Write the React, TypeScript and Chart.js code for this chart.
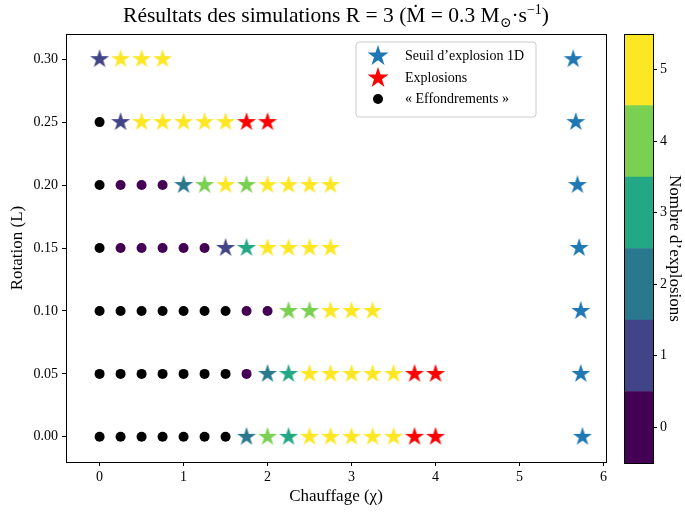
import React, { useEffect, useRef } from "react";
import { Chart, registerables } from "chart.js";
Chart.register(...registerables);

const FONT = "'Liberation Serif', 'DejaVu Serif', serif";

// ---- data ----
const rotations = [0.0, 0.05, 0.1, 0.15, 0.2, 0.25, 0.3];
const heating = [0, 0.25, 0.5, 0.75, 1.0, 1.25, 1.5, 1.75, 2.0, 2.25, 2.5, 2.75, 3.0, 3.25, 3.5, 3.75, 4.0];
// codes: -1 = collapse, 0..5 = number of explosions, 9 = explosion (red)
const C = -1;
const E = 9;
const runs000 = [C, C, C, C, C, C, C, 2, 4, 3, 5, 5, 5, 5, 5, E, E];
const runs005 = [C, C, C, C, C, C, C, 0, 2, 3, 5, 5, 5, 5, 5, E, E];
const runs010 = [C, C, C, C, C, C, C, 0, 0, 4, 4, 5, 5, 5];
const runs015 = [C, 0, 0, 0, 0, 0, 1, 3, 5, 5, 5, 5];
const runs020 = [C, 0, 0, 0, 2, 4, 5, 4, 5, 5, 5, 5];
const runs025 = [C, 1, 5, 5, 5, 5, 5, E, E];
const runs030 = [1, 5, 5, 5];
const runsByRotation = [runs000, runs005, runs010, runs015, runs020, runs025, runs030];
const thresholdHeating = [5.75, 5.73, 5.73, 5.71, 5.69, 5.67, 5.64];

const xTicks = [0, 1, 2, 3, 4, 5, 6];
const yTicks = [0, 0.05, 0.1, 0.15, 0.2, 0.25, 0.3];
const cbarTicks = [0, 1, 2, 3, 4, 5];
const viridis6 = ["#440154", "#414487", "#2a788e", "#22a884", "#7ad151", "#fde725"];
const legendLabels = ["Seuil d\u2019explosion 1D", "Explosions", "\u00ab Effondrements \u00bb"];

const BLUE = "#1f77b4";
const RED = "#ff0000";

function drawStarPath(ctx: CanvasRenderingContext2D, cx: number, cy: number, R: number) {
  const r = R * 0.381966;
  ctx.beginPath();
  for (let i = 0; i < 10; i++) {
    const rad = i % 2 === 0 ? R : r;
    const a = -Math.PI / 2 + (i * Math.PI) / 5;
    const px = cx + rad * Math.cos(a);
    const py = cy + rad * Math.sin(a);
    if (i === 0) ctx.moveTo(px, py);
    else ctx.lineTo(px, py);
  }
  ctx.closePath();
}

function makeStar(color: string, R: number): HTMLCanvasElement {
  const size = Math.ceil(R * 2 + 2);
  const c = document.createElement("canvas");
  c.width = size;
  c.height = size;
  const ctx = c.getContext("2d")!;
  ctx.fillStyle = color;
  drawStarPath(ctx, size / 2, size / 2, R);
  ctx.fill();
  return c;
}

export default function App() {
  const mainRef = useRef<HTMLCanvasElement>(null);
  const cbarRef = useRef<HTMLCanvasElement>(null);

  useEffect(() => {
    Chart.defaults.font.family = FONT;
    Chart.defaults.color = "#000";
    const STAR_R = 10;
    const cmapStars = viridis6.map((c) => makeStar(c, STAR_R));
    const redStar = makeStar(RED, STAR_R);
    const blueStar = makeStar(BLUE, STAR_R);

    const cmapPts: any[] = [];
    const cmapStyles: any[] = [];
    const cmapColors: string[] = [];
    const redPts: any[] = [];
    const collapsePts: any[] = [];
    runsByRotation.forEach((row, ri) => {
      row.forEach((code, i) => {
        const p = { x: heating[i], y: rotations[ri] };
        if (code === C) collapsePts.push(p);
        else if (code === E) redPts.push(p);
        else {
          cmapPts.push(p);
          cmapStyles.push(code === 0 ? "circle" : cmapStars[code]);
          cmapColors.push(viridis6[code]);
        }
      });
    });
    const thresholdPts = rotations.map((r, i) => ({ x: thresholdHeating[i], y: r }));

    const framePlugin = {
      id: "frame",
      afterDraw(chart: any) {
        const { ctx, chartArea: a } = chart;
        ctx.save();
        ctx.strokeStyle = "#000";
        ctx.lineWidth = 1;
        ctx.strokeRect(Math.round(a.left) + 0.5, Math.round(a.top) + 0.5, Math.round(a.right - a.left), Math.round(a.bottom - a.top));
        ctx.restore();
      },
    };

    const titleLegendPlugin = {
      id: "titleLegend",
      afterDraw(chart: any) {
        const { ctx, chartArea: a } = chart;
        ctx.save();
        // title
        const big = `21.5px ${FONT}`;
        const small = `14px ${FONT}`;
        const parts = [
          { t: "R\u00e9sultats des simulations R = 3 (M\u0307 = 0.3 M", f: big, dy: 0 },
          { t: "\u2299", f: small, dy: 5 },
          { t: "\u00b7s", f: big, dy: 0 },
          { t: "\u22121", f: small, dy: -8 },
          { t: ")", f: big, dy: 0 },
        ];
        let total = 0;
        const widths = parts.map((p) => {
          ctx.font = p.f;
          const w = ctx.measureText(p.t).width;
          total += w;
          return w;
        });
        let x = (a.left + a.right) / 2 - total / 2;
        const base = 22;
        ctx.fillStyle = "#000";
        ctx.textBaseline = "alphabetic";
        ctx.textAlign = "left";
        parts.forEach((p, i) => {
          ctx.font = p.f;
          ctx.fillText(p.t, x, base + p.dy);
          x += widths[i];
        });

        // legend
        const bx = 356, by = 42, bw = 180, bh = 75, rr = 3;
        ctx.beginPath();
        ctx.moveTo(bx + rr, by);
        ctx.arcTo(bx + bw, by, bx + bw, by + bh, rr);
        ctx.arcTo(bx + bw, by + bh, bx, by + bh, rr);
        ctx.arcTo(bx, by + bh, bx, by, rr);
        ctx.arcTo(bx, by, bx + bw, by, rr);
        ctx.closePath();
        ctx.fillStyle = "rgba(255,255,255,0.8)";
        ctx.fill();
        ctx.strokeStyle = "#cccccc";
        ctx.lineWidth = 1;
        ctx.stroke();
        const rowsY = [56, 78, 99];
        const mx = 378;
        ctx.fillStyle = BLUE;
        drawStarPath(ctx, mx, rowsY[0], 11);
        ctx.fill();
        ctx.fillStyle = RED;
        drawStarPath(ctx, mx, rowsY[1], 11);
        ctx.fill();
        ctx.fillStyle = "#000";
        ctx.beginPath();
        ctx.arc(mx, rowsY[2], 5, 0, Math.PI * 2);
        ctx.fill();
        ctx.font = `14px ${FONT}`;
        ctx.textBaseline = "middle";
        legendLabels.forEach((l, i) => ctx.fillText(l, 405, rowsY[i]));
        ctx.restore();
      },
    };

    const main = new Chart(mainRef.current!, {
      type: "scatter",
      data: {
        datasets: [
          {
            label: "cmap",
            data: cmapPts,
            pointStyle: cmapStyles,
            pointRadius: 5,
            backgroundColor: cmapColors,
            borderWidth: 0,
          },
          {
            label: legendLabels[1],
            data: redPts,
            pointStyle: redStar,
            backgroundColor: RED,
            borderWidth: 0,
          },
          {
            label: legendLabels[2],
            data: collapsePts,
            pointStyle: "circle",
            pointRadius: 5,
            backgroundColor: "#000",
            borderWidth: 0,
          },
          {
            label: legendLabels[0],
            data: thresholdPts,
            pointStyle: blueStar,
            backgroundColor: BLUE,
            borderWidth: 0,
          },
        ] as any,
      },
      options: {
        animation: false,
        responsive: false,
        devicePixelRatio: 1,
        events: [],
        layout: { padding: { top: 34, right: 79, left: 0, bottom: 0 } },
        plugins: { legend: { display: false }, tooltip: { enabled: false }, title: { display: false } },
        scales: {
          x: {
            type: "linear",
            min: -0.4,
            max: 6.03,
            afterFit: (s: any) => {
              s.height = 52;
            },
            afterBuildTicks: (s: any) => {
              s.ticks = xTicks.map((v) => ({ value: v }));
            },
            ticks: { font: { size: 14 }, padding: 3, callback: (v: any) => String(v), maxRotation: 0 },
            grid: { drawOnChartArea: false, tickLength: 4, color: "#000", tickWidth: 1 },
            border: { display: true, color: "#000" },
            title: { display: true, text: "Chauffage (\u03c7)", font: { size: 17 }, padding: { top: 0, bottom: 7 } },
          },
          y: {
            type: "linear",
            min: -0.02,
            max: 0.32,
            afterFit: (s: any) => {
              s.width = 66;
            },
            afterBuildTicks: (s: any) => {
              s.ticks = yTicks.map((v) => ({ value: v }));
            },
            ticks: { font: { size: 14 }, padding: 4, callback: (v: any) => Number(v).toFixed(2) },
            grid: { drawOnChartArea: false, tickLength: 4, color: "#000", tickWidth: 1 },
            border: { display: true, color: "#000" },
            title: { display: true, text: "Rotation (L)", font: { size: 17 }, padding: { top: 7, bottom: 0 } },
          },
        },
      } as any,
      plugins: [framePlugin, titleLegendPlugin],
    });

    const cbar = new Chart(cbarRef.current!, {
      type: "bar",
      data: {
        labels: ["n"],
        datasets: viridis6.map((c, k) => ({
          label: String(cbarTicks[k]),
          data: [[cbarTicks[k] - 0.5, cbarTicks[k] + 0.5]],
          backgroundColor: c,
          borderWidth: 0,
          barPercentage: 1,
          categoryPercentage: 1,
        })) as any,
      },
      options: {
        animation: false,
        responsive: false,
        devicePixelRatio: 1,
        events: [],
        layout: { padding: { top: 34, left: 24, bottom: 51, right: 0 } },
        plugins: { legend: { display: false }, tooltip: { enabled: false } },
        scales: {
          x: { display: false, stacked: true },
          y: {
            position: "right",
            stacked: false,
            min: -0.5,
            max: 5.5,
            afterFit: (s: any) => {
              s.width = 32;
            },
            afterBuildTicks: (s: any) => {
              s.ticks = cbarTicks.map((v) => ({ value: v }));
            },
            ticks: { font: { size: 14 }, padding: 3 },
            grid: { drawOnChartArea: false, tickLength: 4, color: "#000" },
            border: { display: true, color: "#000" },
            title: { display: true, text: "Nombre d\u2019explosions", font: { size: 17 }, padding: { top: 0, bottom: 0 } },
          },
        },
      } as any,
      plugins: [framePlugin],
    });

    return () => {
      main.destroy();
      cbar.destroy();
    };
  }, []);

  return (
    <div style={{ position: "fixed", left: 0, top: 0, width: 685, height: 514, background: "#fff" }}>
      <canvas ref={mainRef} width={685} height={514} style={{ position: "absolute", left: 0, top: 0 }} />
      <canvas ref={cbarRef} width={85} height={514} style={{ position: "absolute", left: 600, top: 0 }} />
    </div>
  );
}
